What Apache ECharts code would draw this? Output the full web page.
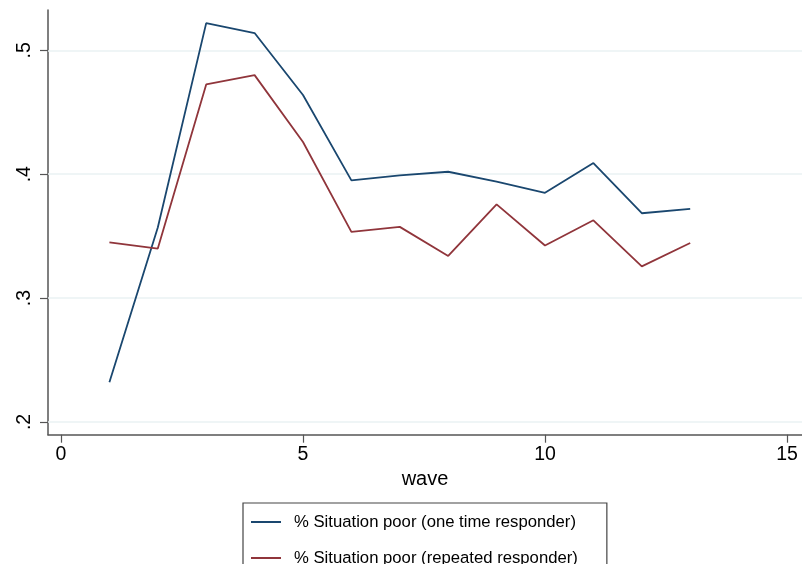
<!DOCTYPE html>
<html>
<head>
<meta charset="utf-8">
<script src="https://cdn.jsdelivr.net/npm/echarts@6/dist/echarts.min.js"></script>
<style>
  html, body { margin: 0; padding: 0; background: #fff; }
  #chart { width: 802px; height: 564px; }
</style>
</head>
<body>
<div id="chart"></div>
<script>
// Share of respondents reporting a poor situation, by survey wave
const waves = [1, 2, 3, 4, 5, 6, 7, 8, 9, 10, 11, 12, 13];
const oneTime = [0.232, 0.357, 0.522, 0.514, 0.464, 0.395, 0.399, 0.402, 0.394, 0.385, 0.409, 0.3685, 0.372];
const repeated = [0.345, 0.340, 0.4725, 0.480, 0.426, 0.3535, 0.3575, 0.334, 0.3757, 0.3425, 0.3628, 0.3256, 0.3445];
const xTicks = [0, 5, 10, 15];
const yTicks = [0.2, 0.3, 0.4, 0.5];
const seriesNames = ['% Situation poor (one time responder)', '% Situation poor (repeated responder)'];

const FONT = "'Liberation Sans', Arial, Helvetica, sans-serif";
const chart = echarts.init(document.getElementById('chart'), null, { renderer: 'canvas' });

const pair = (vals) => waves.map((w, i) => [w, vals[i]]);

chart.setOption({
  backgroundColor: '#ffffff',
  animation: false,
  grid: { left: 48, top: 10, right: 0, bottom: 129.3, containLabel: false },
  xAxis: {
    type: 'value',
    min: -0.2686,
    max: 15.31,
    name: 'wave',
    nameLocation: 'middle',
    nameGap: 33,
    nameTextStyle: { fontFamily: FONT, fontSize: 20, color: '#000' },
    axisLine: { show: true, onZero: false, lineStyle: { color: '#555', width: 1.5 } },
    axisTick: { show: true, length: 8, customValues: xTicks, lineStyle: { color: '#555', width: 1.2 } },
    axisLabel: { customValues: xTicks, margin: 10, fontFamily: FONT, fontSize: 19.5, color: '#000' },
    splitLine: { show: false }
  },
  yAxis: {
    type: 'value',
    min: 0.1897,
    max: 0.5326,
    axisLine: { show: true, onZero: false, lineStyle: { color: '#555', width: 1.5 } },
    axisTick: { show: true, length: 8, customValues: yTicks, lineStyle: { color: '#555', width: 1.2 } },
    axisLabel: {
      customValues: yTicks,
      rotate: 90,
      margin: 13,
      fontFamily: FONT,
      fontSize: 19.5,
      color: '#000',
      formatter: (v) => String(Math.round(v * 10) / 10).replace(/^0\./, '.')
    },
    splitLine: { show: false }
  },
  legend: {
    orient: 'vertical',
    left: 243,
    top: 503,
    width: 400,
    height: 120,
    padding: [9, 29, 9, 8],
    itemGap: 16,
    itemWidth: 30,
    itemHeight: 2,
    icon: 'rect',
    borderColor: '#444',
    borderWidth: 1.2,
    textStyle: { fontFamily: FONT, fontSize: 16.7, color: '#000', lineHeight: 20, padding: [0, 0, 0, 8] },
    data: seriesNames
  },
  series: [
    {
      name: seriesNames[0],
      type: 'line',
      data: pair(oneTime),
      symbol: 'none',
      lineStyle: { color: '#1a476f', width: 1.8 },
      itemStyle: { color: '#1a476f' },
      z: 3,
      // horizontal reference lines at the labelled y ticks
      markLine: {
        silent: true,
        symbol: 'none',
        label: { show: false },
        lineStyle: { color: '#eaf2f3', width: 1.5, type: 'solid' },
        z: 1,
        data: yTicks.map((v) => ({ yAxis: v }))
      }
    },
    {
      name: seriesNames[1],
      type: 'line',
      data: pair(repeated),
      symbol: 'none',
      lineStyle: { color: '#90353b', width: 1.8 },
      itemStyle: { color: '#90353b' },
      z: 3
    }
  ]
});
</script>
</body>
</html>
